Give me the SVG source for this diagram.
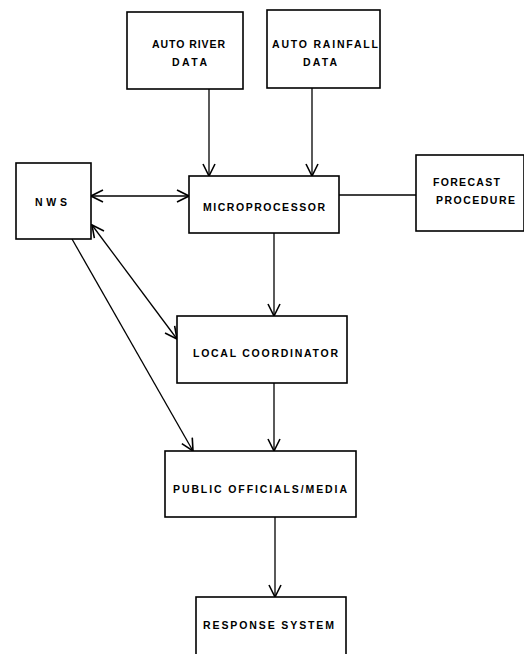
<svg xmlns="http://www.w3.org/2000/svg" width="524" height="654" viewBox="0 0 524 654">
<style>
.box{fill:#fff;stroke:#000;stroke-width:1.6}
.t{font-family:"Liberation Sans",Arial,sans-serif;font-weight:bold;font-size:10.5px;fill:#000}
.c{fill:none;stroke:#000;stroke-width:1.3}
</style>
<defs>
<marker id="a" viewBox="0 0 14 14" refX="13" refY="7" markerWidth="14" markerHeight="14" markerUnits="userSpaceOnUse" orient="auto-start-reverse">
<path d="M1,1 L13,7 L1,13" fill="none" stroke="#000" stroke-width="1.6"/>
</marker>
</defs>
<rect width="524" height="654" fill="#fff"/>
<g id="connectors">
<line class="c" x1="209" y1="89" x2="209" y2="176" marker-end="url(#a)"/>
<line class="c" x1="312" y1="88" x2="312" y2="176" marker-end="url(#a)"/>
<line class="c" x1="91" y1="196" x2="189" y2="196" marker-start="url(#a)" marker-end="url(#a)"/>
<line class="c" x1="339" y1="195" x2="416" y2="195"/>
<line class="c" x1="274" y1="233" x2="274" y2="316" marker-end="url(#a)"/>
<line class="c" x1="274" y1="383" x2="274" y2="451" marker-end="url(#a)"/>
<line class="c" x1="275" y1="517" x2="275" y2="597" marker-end="url(#a)"/>
<line class="c" x1="92" y1="225" x2="177" y2="339" marker-start="url(#a)" marker-end="url(#a)"/>
<line class="c" x1="72" y1="239" x2="193" y2="451" marker-end="url(#a)"/>
</g>
<g id="auto-river">
<rect class="box" x="127" y="12" width="116" height="77"/>
<text class="t" x="152" y="48" textLength="73" lengthAdjust="spacing">AUTO RIVER</text>
<text class="t" x="172" y="66" textLength="35" lengthAdjust="spacing">DATA</text>
</g>
<g id="auto-rainfall">
<rect class="box" x="267" y="10" width="113" height="78"/>
<text class="t" x="272" y="48" textLength="106" lengthAdjust="spacing">AUTO RAINFALL</text>
<text class="t" x="303" y="66" textLength="34" lengthAdjust="spacing">DATA</text>
</g>
<g id="nws">
<rect class="box" x="16" y="163" width="75" height="76"/>
<text class="t" x="35" y="206" textLength="32" lengthAdjust="spacing">NWS</text>
</g>
<g id="microprocessor">
<rect class="box" x="189" y="176" width="150" height="57"/>
<text class="t" x="203" y="211" textLength="122" lengthAdjust="spacing">MICROPROCESSOR</text>
</g>
<g id="forecast">
<rect class="box" x="416" y="155" width="108" height="76"/>
<text class="t" x="433" y="186" textLength="67" lengthAdjust="spacing">FORECAST</text>
<text class="t" x="436" y="204" textLength="79" lengthAdjust="spacing">PROCEDURE</text>
</g>
<g id="local-coordinator">
<rect class="box" x="177" y="316" width="170" height="67"/>
<text class="t" x="193" y="357" textLength="145" lengthAdjust="spacing">LOCAL COORDINATOR</text>
</g>
<g id="public-officials">
<rect class="box" x="165" y="451" width="191" height="66"/>
<text class="t" x="173" y="493" textLength="174" lengthAdjust="spacing">PUBLIC OFFICIALS/MEDIA</text>
</g>
<g id="response-system">
<rect class="box" x="196" y="597" width="150" height="70"/>
<text class="t" x="203" y="629" textLength="131" lengthAdjust="spacing">RESPONSE SYSTEM</text>
</g>
</svg>
